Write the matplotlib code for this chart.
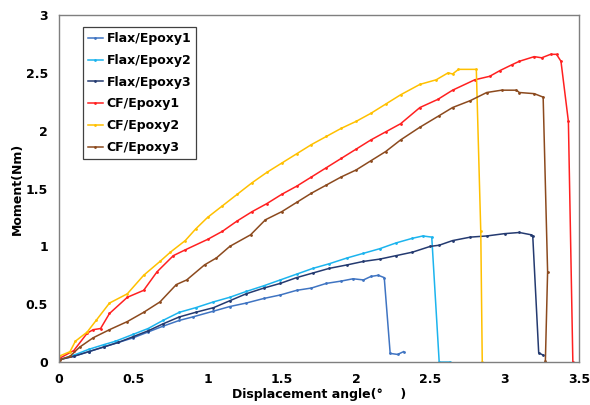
import matplotlib.pyplot as plt

# moment vs displacement angle
flax1_x = [0, 0.1, 0.2, 0.3, 0.4, 0.5, 0.6, 0.7, 0.81, 0.9, 1.04, 1.15, 1.26, 1.38, 1.49, 1.6, 1.7,
           1.8, 1.9, 1.98, 2.05, 2.1, 2.15, 2.19, 2.23, 2.28, 2.32]
flax1_y = [0.02, 0.05, 0.09, 0.13, 0.17, 0.21, 0.26, 0.31, 0.36, 0.39, 0.44, 0.48, 0.51, 0.55, 0.58, 0.62, 0.64,
           0.68, 0.70, 0.72, 0.71, 0.74, 0.75, 0.73, 0.075, 0.066, 0.09]

flax2_x = [0, 0.1, 0.2, 0.3, 0.38, 0.5, 0.6, 0.7, 0.81, 0.92, 1.04, 1.15, 1.26, 1.38, 1.49, 1.6, 1.71,
           1.82, 1.94, 2.05, 2.16, 2.27, 2.38, 2.45, 2.51, 2.56, 2.63]
flax2_y = [0.02, 0.06, 0.11, 0.15, 0.18, 0.24, 0.29, 0.36, 0.43, 0.47, 0.52, 0.56, 0.61, 0.66, 0.71, 0.76, 0.81,
           0.85, 0.90, 0.94, 0.98, 1.03, 1.07, 1.09, 1.08, 0, 0]

flax3_x = [0, 0.1, 0.2, 0.3, 0.4, 0.5, 0.6, 0.7, 0.81, 0.92, 1.04, 1.15, 1.26, 1.38, 1.49, 1.6, 1.71,
           1.82, 1.94, 2.05, 2.16, 2.27, 2.38, 2.5, 2.56, 2.65, 2.77, 2.88, 3.0, 3.1, 3.18, 3.19, 3.23, 3.26]
flax3_y = [0.02, 0.05, 0.09, 0.13, 0.17, 0.22, 0.27, 0.33, 0.39, 0.43, 0.47, 0.53, 0.59, 0.64, 0.68, 0.73, 0.77,
           0.81, 0.84, 0.87, 0.89, 0.92, 0.95, 1.0, 1.01, 1.05, 1.08, 1.09, 1.11, 1.12, 1.10, 1.09, 0.08, 0.06]

cf1_x = [0, 0.1, 0.19, 0.23, 0.28, 0.34, 0.46, 0.57, 0.66, 0.77, 0.85, 1.0, 1.1, 1.2, 1.3, 1.4, 1.5, 1.6,
         1.7, 1.8, 1.9, 2.0, 2.1, 2.2, 2.3, 2.43, 2.55, 2.65, 2.8, 2.9, 2.97, 3.05, 3.1, 3.2, 3.25, 3.31,
         3.35, 3.38, 3.43, 3.46]
cf1_y = [0.03, 0.10, 0.25, 0.28, 0.29, 0.42, 0.56, 0.62, 0.78, 0.92, 0.97, 1.06, 1.13, 1.22, 1.30, 1.37, 1.45, 1.52,
         1.60, 1.68, 1.76, 1.84, 1.92, 1.99, 2.06, 2.20, 2.27, 2.35, 2.44, 2.47, 2.52, 2.57, 2.60, 2.64, 2.63, 2.66,
         2.66, 2.60, 2.08, 0]

cf2_x = [0, 0.074, 0.11, 0.19, 0.25, 0.34, 0.46, 0.57, 0.68, 0.75, 0.85, 0.92, 1.0, 1.1, 1.2, 1.3, 1.4, 1.5,
         1.6, 1.7, 1.8, 1.9, 2.0, 2.1, 2.2, 2.3, 2.43, 2.54, 2.62, 2.65, 2.69, 2.81, 2.84, 2.85]
cf2_y = [0.05, 0.09, 0.18, 0.26, 0.36, 0.51, 0.59, 0.75, 0.87, 0.95, 1.05, 1.15, 1.25, 1.35, 1.45, 1.55, 1.64, 1.72,
         1.80, 1.88, 1.95, 2.02, 2.08, 2.15, 2.23, 2.31, 2.40, 2.44, 2.50, 2.49, 2.53, 2.53, 1.13, 0]

cf3_x = [0.007, 0.074, 0.14, 0.23, 0.34, 0.46, 0.57, 0.68, 0.79, 0.86, 0.98, 1.06, 1.15, 1.29, 1.39, 1.5, 1.6,
         1.7, 1.8, 1.9, 2.0, 2.1, 2.2, 2.3, 2.43, 2.56, 2.65, 2.77, 2.88, 2.98, 3.08, 3.1, 3.2, 3.26, 3.29, 3.275]
cf3_y = [0.02, 0.05, 0.13, 0.21, 0.28, 0.35, 0.43, 0.52, 0.67, 0.71, 0.84, 0.90, 1.0, 1.10, 1.23, 1.30, 1.38,
         1.46, 1.53, 1.60, 1.66, 1.74, 1.82, 1.92, 2.03, 2.13, 2.20, 2.26, 2.33, 2.35, 2.35, 2.33, 2.32, 2.29, 0.78, 0.01]

series = [
    ("Flax/Epoxy1", flax1_x, flax1_y, "#3F74C2"),
    ("Flax/Epoxy2", flax2_x, flax2_y, "#1CB4EE"),
    ("Flax/Epoxy3", flax3_x, flax3_y, "#243A70"),
    ("CF/Epoxy1", cf1_x, cf1_y, "#FF2020"),
    ("CF/Epoxy2", cf2_x, cf2_y, "#FFC000"),
    ("CF/Epoxy3", cf3_x, cf3_y, "#8C4A1E"),
]

fig = plt.figure(figsize=(5.9, 4.05), dpi=100)
ax = fig.add_axes([0.1, 0.106, 0.881, 0.857])

for name, xs, ys, col in series:
    ax.plot(xs, ys, color=col, linewidth=1.1, marker="o", markersize=1.0, label=name)

ax.set_xlim(0, 3.5)
ax.set_ylim(0, 3)
ax.set_xticks([0, 0.5, 1, 1.5, 2, 2.5, 3, 3.5])
ax.set_xticklabels(["0", "0.5", "1", "1.5", "2", "2.5", "3", "3.5"])
ax.set_yticks([0, 0.5, 1, 1.5, 2, 2.5, 3])
ax.set_yticklabels(["0", "0.5", "1", "1.5", "2", "2.5", "3"])
ax.tick_params(length=0, labelsize=9, pad=8)
for lbl in ax.get_xticklabels() + ax.get_yticklabels():
    lbl.set_fontweight("bold")
for sp in ax.spines.values():
    sp.set_color("#7F7F7F")
    sp.set_linewidth(1)

ax.set_xlabel("Displacement angle(°    )", fontsize=9, fontweight="bold", labelpad=1)
ax.set_ylabel("Moment(Nm)", fontsize=9, fontweight="bold", labelpad=1)

leg = ax.legend(loc="upper left", bbox_to_anchor=(0.046, 0.965), borderaxespad=0, fancybox=False,
                framealpha=1, edgecolor="#404040", handlelength=1.2, handletextpad=0.3, borderpad=0.4,
                labelspacing=0.7, prop={"weight": "bold", "size": 9})
leg.get_frame().set_linewidth(0.9)

fig.savefig("out.png", dpi=100)
